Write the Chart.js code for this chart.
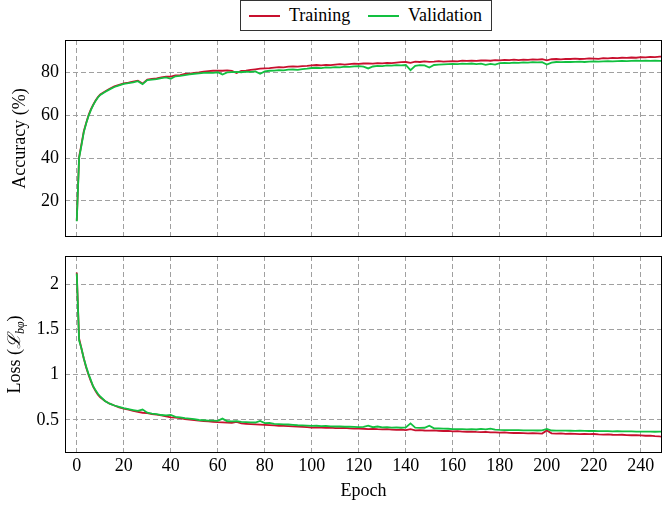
<!DOCTYPE html>
<html>
<head>
<meta charset="utf-8">
<script src="https://cdn.jsdelivr.net/npm/chart.js@4.4.0/dist/chart.umd.min.js"></script>
<style>
  body { margin: 0; background: #fff; }
  #wrap { position: relative; width: 662px; height: 506px; overflow: hidden; font-family: "Liberation Serif", "DejaVu Serif", serif; }
  #accCanvas { position: absolute; left: 0; top: 0; }
  #lossCanvas { position: absolute; left: 0; top: 245px; }
  #legend { position: absolute; left: 240px; top: 0; width: 250px; height: 29px; border: 1px solid #333; background: #fff; font-size: 18px; color: #000; }
  .key { position: absolute; top: 14px; width: 31px; height: 2px; }
  .lbl { position: absolute; top: 4px; line-height: 20px; }
</style>
</head>
<body>
<div id="wrap">
  <canvas id="accCanvas" width="662" height="245"></canvas>
  <canvas id="lossCanvas" width="662" height="261"></canvas>
  <div id="legend">
    <span class="key" style="left:8px;background:#c8102e"></span><span class="lbl" style="left:48px">Training</span>
    <span class="key" style="left:127px;background:#12c040"></span><span class="lbl" style="left:167px">Validation</span>
  </div>
</div>
<script>
// epochs (every epoch up to 10, then every second one)
var epochs = [0, 1, 2, 3, 4, 5, 6, 7, 8, 9, 10,
  12, 14, 16, 18, 20, 22, 24, 26, 28, 30, 32, 34, 36, 38, 40, 42, 44, 46, 48, 50,
  52, 54, 56, 58, 60, 62, 64, 66, 68, 70, 72, 74, 76, 78, 80, 82, 84, 86, 88, 90,
  92, 94, 96, 98, 100, 102, 104, 106, 108, 110, 112, 114, 116, 118, 120, 122, 124, 126, 128, 130,
  132, 134, 136, 138, 140, 142, 144, 146, 148, 150, 152, 154, 156, 158, 160, 162, 164, 166, 168, 170,
  172, 174, 176, 178, 180, 182, 184, 186, 188, 190, 192, 194, 196, 198, 200, 202, 204, 206, 208, 210,
  212, 214, 216, 218, 220, 222, 224, 226, 228, 230, 232, 234, 236, 238, 240, 242, 244, 246, 248, 250];

var accTrain = [10.7, 40.5, 46.5, 52.6, 56.5, 60.0, 62.8, 65.0, 67.0, 68.6, 69.8,
  71.2, 72.5, 73.6, 74.3, 75.0, 75.3, 75.8, 76.3, 74.9, 76.8, 77.1, 77.3, 77.8, 78.1, 78.2, 78.7, 78.9, 79.4, 79.6, 79.9,
  80.1, 80.5, 80.7, 80.9, 81.0, 80.9, 81.1, 80.8, 79.8, 80.9,
  81.0, 81.3, 81.6, 81.9, 82.0, 82.1, 82.4, 82.6, 82.5, 82.8,
  82.9, 82.8, 83.1, 83.2, 83.4, 83.6, 83.4, 83.7, 83.5, 83.8,
  84.0, 83.8, 84.0, 84.2, 84.1, 84.3, 84.4, 84.2, 84.5, 84.4,
  84.6, 84.5, 84.7, 84.9, 85.0, 84.6, 85.2, 85.0, 85.3, 85.1,
  85.2, 85.4, 85.2, 85.3, 85.4, 85.3, 85.6, 85.5, 85.6, 85.5,
  85.7, 85.8, 85.6, 85.9, 85.8, 86.0, 85.9, 86.1, 85.9, 86.1,
  86.0, 86.2, 86.1, 86.3, 85.8, 86.3, 86.4, 86.2, 86.5, 86.4,
  86.6, 86.4, 86.5, 86.7, 86.6, 86.5, 86.8, 86.7, 86.9, 86.8,
  87.0, 86.9, 87.1, 87.0, 87.3, 87.2, 87.4, 87.3, 87.5, 87.5];

var accVal = [10.5, 40.0, 46.0, 52.2, 56.2, 59.7, 62.5, 64.8, 66.8, 68.4, 69.6,
  71.0, 72.2, 73.3, 74.1, 74.8, 75.1, 75.5, 76.0, 74.6, 76.5, 76.8, 77.0, 77.5, 77.8, 77.1, 78.3, 78.5, 78.9, 79.2, 79.5,
  79.7, 79.9, 80.0, 79.9, 80.2, 79.1, 80.1, 80.3, 80.4, 80.2,
  80.5, 80.4, 80.6, 79.5, 80.6, 80.9, 81.0, 81.2, 81.1, 81.4,
  81.5, 81.3, 81.7, 81.9, 82.2, 82.3, 82.1, 82.5, 82.4, 82.6,
  82.5, 82.8, 82.7, 83.0, 83.1, 82.8, 82.0, 82.9, 83.2, 83.1,
  83.4, 83.3, 83.5, 83.4, 83.6, 81.2, 83.2, 83.5, 83.4, 82.4,
  83.6, 83.8, 83.9, 84.0, 84.1, 84.0, 84.2, 84.1, 84.3, 84.0,
  84.2, 83.7, 84.1, 83.8, 84.5, 84.6, 84.5, 84.7, 84.6, 84.8,
  84.7, 84.9, 84.8, 84.9, 83.8, 84.7, 85.0, 84.9, 85.1, 85.0,
  85.1, 85.2, 85.0, 85.2, 85.3, 85.2, 85.3, 85.4, 85.3, 85.4,
  85.5, 85.4, 85.5, 85.6, 85.5, 85.6, 85.5, 85.6, 85.5, 85.5];

var lossTrain = [2.13, 1.40, 1.29, 1.18, 1.08, 1.00, 0.93, 0.87, 0.82, 0.78, 0.75,
  0.71, 0.68, 0.66, 0.64, 0.625, 0.615, 0.60, 0.59, 0.58, 0.575, 0.565, 0.56, 0.55, 0.54, 0.53, 0.525, 0.52, 0.51, 0.505, 0.50,
  0.492, 0.488, 0.485, 0.480, 0.476, 0.474, 0.470, 0.468, 0.478, 0.462,
  0.458, 0.455, 0.452, 0.448, 0.445, 0.443, 0.440, 0.436, 0.434, 0.432,
  0.430, 0.427, 0.424, 0.420, 0.416, 0.418, 0.415, 0.413, 0.415, 0.411,
  0.409, 0.412, 0.407, 0.405, 0.406, 0.403, 0.400, 0.402, 0.398, 0.396,
  0.398, 0.394, 0.391, 0.393, 0.389, 0.398, 0.386, 0.388, 0.384, 0.383,
  0.385, 0.380, 0.378, 0.380, 0.374, 0.376, 0.372, 0.370, 0.372, 0.368,
  0.366, 0.368, 0.364, 0.362, 0.360, 0.362, 0.358, 0.356, 0.358, 0.355,
  0.353, 0.355, 0.352, 0.350, 0.385, 0.352, 0.349, 0.351, 0.347, 0.349,
  0.346, 0.344, 0.346, 0.343, 0.345, 0.341, 0.339, 0.341, 0.337, 0.335,
  0.337, 0.333, 0.331, 0.333, 0.329, 0.326, 0.328, 0.322, 0.318, 0.316];

var lossVal = [2.12, 1.38, 1.29, 1.18, 1.09, 1.01, 0.94, 0.87, 0.83, 0.79, 0.76,
  0.71, 0.68, 0.66, 0.645, 0.63, 0.62, 0.61, 0.60, 0.615, 0.58, 0.57, 0.565, 0.555, 0.55, 0.555, 0.535, 0.53, 0.52, 0.515, 0.51,
  0.500, 0.497, 0.494, 0.492, 0.490, 0.515, 0.486, 0.484, 0.488, 0.478,
  0.476, 0.474, 0.472, 0.490, 0.465, 0.468, 0.458, 0.455, 0.452, 0.450,
  0.447, 0.442, 0.440, 0.437, 0.434, 0.436, 0.432, 0.434, 0.430, 0.428,
  0.430, 0.425, 0.427, 0.423, 0.420, 0.424, 0.437, 0.420, 0.428, 0.418,
  0.420, 0.416, 0.418, 0.414, 0.418, 0.463, 0.415, 0.412, 0.414, 0.437,
  0.408, 0.406, 0.404, 0.403, 0.400, 0.399, 0.398, 0.397, 0.398, 0.395,
  0.402, 0.397, 0.405, 0.394, 0.390, 0.389, 0.388, 0.387, 0.388, 0.386,
  0.385, 0.386, 0.384, 0.385, 0.402, 0.384, 0.383, 0.382, 0.383, 0.381,
  0.380, 0.381, 0.379, 0.378, 0.379, 0.377, 0.376, 0.377, 0.375, 0.376,
  0.374, 0.373, 0.374, 0.372, 0.371, 0.372, 0.371, 0.370, 0.371, 0.370];

var epochTicks = [0, 20, 40, 60, 80, 100, 120, 140, 160, 180, 200, 220, 240];
var accTicks = [20, 40, 60, 80];
var lossTicks = [0.5, 1, 1.5, 2];

var SERIF = '"Liberation Serif", "DejaVu Serif", serif';
var RED = '#c8102e';
var GREEN = '#12c040';

Chart.defaults.font.family = SERIF;
Chart.defaults.font.size = 18;
Chart.defaults.color = '#000';

// box round the plot area
var frame = {
  id: 'frame',
  afterDraw: function (chart) {
    var ctx = chart.ctx, a = chart.chartArea;
    ctx.save();
    ctx.strokeStyle = '#000';
    ctx.lineWidth = 1;
    ctx.strokeRect(Math.round(a.left) + 0.5, Math.round(a.top) + 0.5,
      Math.round(a.right - a.left) - 1, Math.round(a.bottom - a.top) - 1);
    ctx.restore();
  }
};

// y label with a subscript, drawn on the canvas
var lossTitle = {
  id: 'lossTitle',
  afterDraw: function (chart) {
    var ctx = chart.ctx, a = chart.chartArea;
    var parts = [
      ['Loss (', '18px ' + SERIF, 0],
      ['\u2112', 'italic 18px ' + SERIF, 0],
      ['b\u03c6', 'italic 12px ' + SERIF, 4],
      [')', '18px ' + SERIF, 0]
    ];
    ctx.save();
    var total = 0;
    parts.forEach(function (p) { ctx.font = p[1]; p.push(ctx.measureText(p[0]).width); total += p[3]; });
    ctx.translate(20, (a.top + a.bottom) / 2);
    ctx.rotate(-Math.PI / 2);
    ctx.fillStyle = '#000';
    ctx.textBaseline = 'alphabetic';
    var x = -total / 2;
    parts.forEach(function (p) { ctx.font = p[1]; ctx.fillText(p[0], x, p[2]); x += p[3]; });
    ctx.restore();
  }
};

function pairs(ys) {
  return epochs.map(function (e, i) { return { x: e, y: ys[i] }; });
}

function noPad(s) {
  s.paddingTop = 0; s.paddingBottom = 0; s.paddingLeft = 0; s.paddingRight = 0;
}

function xScale(showLabels) {
  return {
    type: 'linear',
    min: -5,
    max: 249,
    afterBuildTicks: function (s) { s.ticks = epochTicks.map(function (v) { return { value: v }; }); },
    afterFit: function (s) { s.height = showLabels ? 53 : 0; noPad(s); },
    grid: { color: '#a0a0a0', lineWidth: 1, drawTicks: false },
    border: { display: false, dash: [5, 3] },
    ticks: { display: showLabels, padding: 2, maxRotation: 0, autoSkip: false },
    title: { display: showLabels, text: 'Epoch', padding: { top: 0, bottom: 4 } }
  };
}

function yScale(min, max, ticks, title) {
  return {
    min: min,
    max: max,
    afterBuildTicks: function (s) { s.ticks = ticks.map(function (v) { return { value: v }; }); },
    afterFit: function (s) { s.width = 65; noPad(s); },
    grid: { color: '#a0a0a0', lineWidth: 1, drawTicks: false },
    border: { display: false, dash: [5, 3] },
    ticks: { padding: 6, callback: function (v) { return String(v); } },
    title: { display: !!title, text: title || '', padding: { top: 9, bottom: 0 } }
  };
}

function lineChart(id, train, val, y, showX, padTop, padBottom, extra) {
  return new Chart(document.getElementById(id).getContext('2d'), {
    type: 'line',
    data: {
      datasets: [{
        label: 'Training',
        data: pairs(train),
        borderColor: RED,
        borderWidth: 1.8,
        pointRadius: 0,
        order: 2
      }, {
        label: 'Validation',
        data: pairs(val),
        borderColor: GREEN,
        borderWidth: 1.8,
        pointRadius: 0,
        order: 1
      }]
    },
    options: {
      responsive: false,
      animation: false,
      layout: { padding: { top: padTop, bottom: padBottom, left: 0, right: 0 } },
      plugins: { legend: { display: false }, tooltip: { enabled: false } },
      scales: { x: xScale(showX), y: y }
    },
    plugins: [frame].concat(extra)
  });
}

lineChart('accCanvas', accTrain, accVal, yScale(3.1, 95.3, accTicks, 'Accuracy (%)'), false, 40, 8, []);
lineChart('lossCanvas', lossTrain, lossVal, yScale(0.135, 2.313, lossTicks, null), true, 11, 0, [lossTitle]);
</script>
</body>
</html>
